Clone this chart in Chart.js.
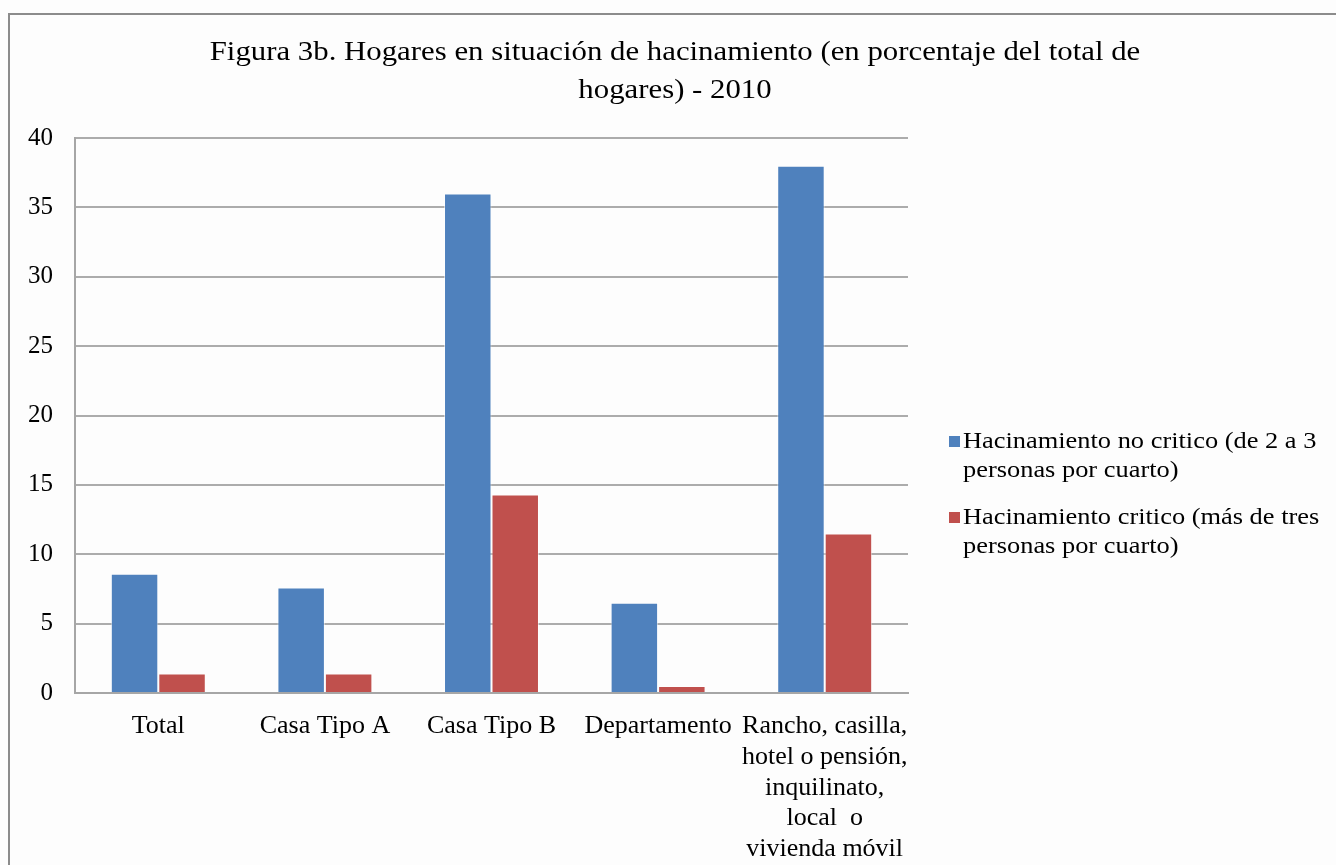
<!DOCTYPE html>
<html>
<head>
<meta charset="utf-8">
<script src="https://cdn.jsdelivr.net/npm/chart.js"></script>
<style>
  html, body { margin: 0; padding: 0; background: #fdfdfd; overflow: hidden; }
  #frame {
      position: absolute; left: 8px; top: 13px; width: 1400px; height: 900px;
      border: 2px solid #8c8c8c; box-sizing: border-box;
  }
  #wrap { position: absolute; left: 0; top: 0; width: 1336px; height: 865px; }
</style>
</head>
<body>
<div id="frame"></div>
<div id="wrap"><canvas id="chart" width="1336" height="865"></canvas></div>
<script>
const titleLines = ['Figura 3b. Hogares en situación de hacinamiento (en porcentaje del total de', 'hogares) - 2010'];
const categories = [
    'Total',
    'Casa Tipo A',
    'Casa Tipo B',
    'Departamento',
    ['Rancho, casilla,', 'hotel o pensión,', 'inquilinato,', 'local  o', 'vivienda móvil']
];
const seriesNames = [
    ['Hacinamiento no critico (de 2 a 3', 'personas por cuarto)'],
    ['Hacinamiento critico (más de tres', 'personas por cuarto)']
];
const noCritico = [8.6, 7.6, 36.0, 6.5, 38.0];
const critico = [1.4, 1.4, 14.3, 0.5, 11.5];
const yTicks = [0, 5, 10, 15, 20, 25, 30, 35, 40];

const serif = '"Liberation Serif", "Times New Roman", serif';
const colors = ['#4f81bd', '#c0504d'];

// title and wrapped legend drawn by hand, Chart.js legend can't wrap
const decor = {
    id: 'decor',
    afterDraw(chart) {
        const ctx = chart.ctx;
        ctx.save();
        ctx.fillStyle = '#000';
        ctx.textAlign = 'center';
        ctx.textBaseline = 'middle';
        // source text is a bit stretched sideways
        ctx.save();
        ctx.translate(675, 0);
        ctx.scale(1.1, 1);
        ctx.font = '28px ' + serif;
        titleLines.forEach((t, i) => ctx.fillText(t, 0, 53 + i * 38));
        ctx.restore();

        ctx.textAlign = 'left';
        chart.data.datasets.forEach((ds, i) => {
            const y0 = 442 + i * 76;
            ctx.fillStyle = ds.backgroundColor;
            ctx.fillRect(949, y0 - 6, 11, 11);
            ctx.fillStyle = '#000';
            ctx.save();
            ctx.translate(963, 0);
            ctx.scale(1.1, 1);
            ctx.font = '24px ' + serif;
            seriesNames[i].forEach((line, j) => ctx.fillText(line, 0, y0 + j * 29));
            ctx.restore();
        });
        ctx.restore();
    }
};

new Chart(document.getElementById('chart'), {
    type: 'bar',
    data: {
        labels: categories,
        datasets: [
            { label: seriesNames[0].join(' '), data: noCritico, backgroundColor: colors[0] },
            { label: seriesNames[1].join(' '), data: critico, backgroundColor: colors[1] }
        ]
    },
    options: {
        responsive: false,
        animation: false,
        layout: { padding: { left: 0, right: 428, top: 138, bottom: 0 } },
        datasets: {
            bar: {
                categoryPercentage: 0.57,
                barPercentage: 1.0,
                borderWidth: 1,
                borderColor: 'rgba(255,255,255,0.55)'
            }
        },
        plugins: {
            legend: { display: false },
            title: { display: false },
            tooltip: { enabled: false }
        },
        scales: {
            x: {
                grid: { display: false, drawTicks: false },
                border: { color: '#a6a6a6', width: 2 },
                ticks: {
                    color: '#000', font: { family: serif, size: 26, lineHeight: 1.18 },
                    padding: 18, maxRotation: 0, autoSkip: false
                },
                afterFit: s => { s.height = 172; }
            },
            y: {
                min: 0, max: 40,
                afterBuildTicks: s => { s.ticks = yTicks.map(v => ({ value: v })); },
                grid: { color: '#acacac', lineWidth: 2, drawTicks: false },
                border: { color: '#a6a6a6', width: 2 },
                ticks: { color: '#000', font: { family: serif, size: 25 }, padding: 22 },
                afterFit: s => { s.width = 75; }
            }
        }
    },
    plugins: [decor]
});
</script>
</body>
</html>
